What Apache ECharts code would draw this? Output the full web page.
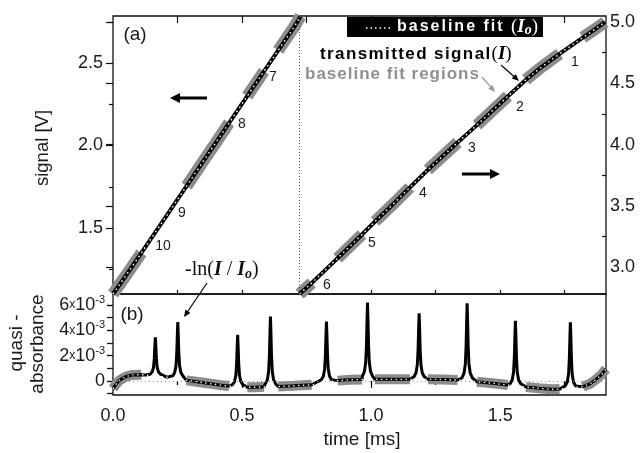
<!DOCTYPE html>
<html>
<head>
<meta charset="utf-8">
<script src="https://cdn.jsdelivr.net/npm/echarts@6.0.0/dist/echarts.min.js"></script>
<style>html,body{margin:0;padding:0;background:#fff}#main{width:643px;height:453px}</style>
</head>
<body>
<div id="main"></div>
<script>
// time axis [ms]
var tMax = 1.91;
var breakT = 0.723; // ramp wraps from left axis to right axis here

// signal ramp read against the left axis [t ms, V]
var rampLeft = [[0,1.100],[0.05,1.212],[0.11,1.349],[0.15,1.441],[0.2,1.557],[0.25,1.673],[0.285,1.754],[0.35,1.905],[0.4,2.021],[0.45,2.137],[0.52,2.299],[0.585,2.450],[0.64,2.577],[0.7,2.714],[0.727,2.784]];
// signal ramp read against the right axis [t ms, V]
var rampRight = [[0.723,2.780],[0.77,2.870],[0.82,2.971],[0.87,3.072],[0.965,3.266],[1.015,3.372],[1.08,3.503],[1.15,3.650],[1.22,3.794],[1.28,3.911],[1.335,4.017],[1.41,4.159],[1.47,4.277],[1.53,4.395],[1.6,4.530],[1.66,4.633],[1.73,4.741],[1.82,4.874],[1.86,4.931],[1.906,5.0]];

// baseline fit regions [t start, t end]
var fitRegions = [[0,0.11],[0.285,0.45],[0.52,0.585],[0.64,0.77],[0.87,0.965],[1.015,1.15],[1.22,1.335],[1.41,1.53],[1.6,1.73],[1.82,1.91]];

// quasi-absorbance baseline between the lines [t ms, A in 1e-3]
var absBase = [[0,-0.60],[0.012,-0.25],[0.025,0.05],[0.05,0.35],[0.075,0.48],[0.11,0.50],[0.125,0.48],[0.208,0.30],[0.285,0.05],[0.33,-0.08],[0.38,-0.22],[0.42,-0.33],[0.45,-0.40],[0.52,-0.50],[0.55,-0.49],[0.585,-0.46],[0.64,-0.43],[0.7,-0.38],[0.77,-0.30],[0.87,0.03],[0.92,0.10],[0.965,0.12],[1.015,0.13],[1.08,0.13],[1.15,0.13],[1.22,0.13],[1.28,0.12],[1.335,0.07],[1.41,-0.06],[1.47,-0.18],[1.53,-0.32],[1.6,-0.47],[1.65,-0.58],[1.7,-0.65],[1.73,-0.64],[1.82,-0.45],[1.85,-0.20],[1.87,0.10],[1.89,0.45],[1.91,0.95]];
// absorption lines [centre t, peak A, foot A] (A in 1e-3)
var peaks = [[0.164,3.45,0.42],[0.251,4.65,0.22],[0.483,3.65,-0.45],[0.610,5.10,-0.45],[0.827,4.70,-0.10],[0.986,6.20,0.13],[1.186,5.36,0.13],[1.372,6.15,0.0],[1.559,4.76,-0.40],[1.772,4.65,-0.60]];
// line shape read from the spikes [dt ms, fraction of height]
var peakShape = [[-0.02,0.04],[-0.012,0.1],[-0.007,0.22],[-0.004,0.45],[-0.002,0.75],[0,1],[0.002,0.75],[0.004,0.45],[0.007,0.22],[0.012,0.1],[0.02,0.04]];

// ticks and labels
var tTicks = [0.25,0.5,0.75,1,1.25,1.5,1.75];
var tLabels = [0,0.5,1,1.5];
var tMinor = [0.25,0.75,1.25,1.75];
var vLeftLabels = [1.5,2.0,2.5];
var vLeftMinor = [1.25,1.75,2.25,2.75];
var vRightLabels = [3.0,3.5,4.0,4.5,5.0];
var vRightMinor = [3.25,3.75,4.25,4.75];
var aLabels = [0,2,4,6];
var aMinor = [-1,1,3,5];
var aRight = [-1,0,1,2,3,4,5,6];

// numbers of the fit regions
var regionTags = [['1',575,62],['2',520,107],['3',472,148],['4',423,193],['5',372,243],['6',327,285],['7',273,77],['8',242,124],['9',182,213],['10',163,246]];

var FONT = '"Liberation Sans", Arial, sans-serif';
var SERIF = '"Liberation Serif", "Times New Roman", serif';
var GRAY = '#8c8c8c';
var INK = '#1a1a1a';

function regionData(pts) {
    var out = [];
    fitRegions.forEach(function (r) {
        var seg = pts.filter(function (p) { return p[0] >= r[0] - 1e-9 && p[0] <= r[1] + 1e-9; });
        if (seg.length > 1) {
            out = out.concat(seg);
            out.push([r[1], null]);
        }
    });
    return out;
}

var absData = absBase.slice();
peaks.forEach(function (p) {
    peakShape.forEach(function (s) {
        absData.push([p[0] + s[0], p[2] + (p[1] - p[2]) * s[1]]);
    });
});
absData.sort(function (a, b) { return a[0] - b[0]; });

function axis(o) {
    return Object.assign({
        type: 'value', splitLine: {show: false}, axisLine: {show: false},
        axisTick: {show: false}, axisLabel: {show: false}
    }, o);
}
function ticks(vals, len, inside) {
    return {show: true, inside: inside, length: len, customValues: vals, lineStyle: {color: '#111', width: 1.2}};
}
var labelBase = {show: true, fontSize: 18, fontFamily: FONT, color: INK};

function arrow(x1, y1, x2, y2, color, w, hl, hw) {
    var dx = x2 - x1, dy = y2 - y1, L = Math.sqrt(dx * dx + dy * dy);
    var ux = dx / L, uy = dy / L;
    var bx = x2 - ux * hl, by = y2 - uy * hl;
    return [
        {type: 'line', shape: {x1: x1, y1: y1, x2: bx + ux, y2: by + uy}, style: {stroke: color, lineWidth: w}},
        {type: 'polygon', shape: {points: [[x2, y2], [bx - uy * hw, by + ux * hw], [bx + uy * hw, by - ux * hw]]}, style: {fill: color}}
    ];
}
function txt(s, x, y, font, rot) {
    return {type: 'text', x: x, y: y, rotation: rot || 0,
        style: {text: s, font: font, fill: INK, align: 'center', verticalAlign: 'middle'}};
}
// spaced-out lettering: one rich token per character
function track(s, key) {
    return s.split('').map(function (c) { return '{' + key + '|' + c + '}'; }).join('');
}

var graphics = [
    txt('(a)', 135, 35, '19px ' + FONT),
    txt('(b)', 132, 315, '19px ' + FONT),
    txt('signal [V]', 43, 148, '18.5px ' + FONT, Math.PI / 2),
    txt('quasi -', 17, 343, '19px ' + FONT, Math.PI / 2),
    txt('absorbance', 38, 344, '19px ' + FONT, Math.PI / 2),
    txt('time [ms]', 362, 440, '19px ' + FONT),
    // legend box
    {type: 'rect', shape: {x: 347, y: 17, width: 196, height: 20}, style: {fill: '#000'}},
    {type: 'line', shape: {x1: 366, y1: 28, x2: 390, y2: 28}, style: {stroke: '#fff', lineWidth: 1.5, lineDash: [1.5, 3]}},
    {type: 'text', x: 397, y: 27, style: {
        text: track('baseline fit ', 'b') + '{p|(}{i|I}{s|o}{p|)}', fill: '#fff', verticalAlign: 'middle',
        rich: {
            b: {font: 'bold 16px ' + FONT, fill: '#fff', padding: [0, 2.0, 0, 0]},
            p: {font: '19px ' + SERIF, fill: '#fff'},
            i: {font: 'bold italic 19px ' + SERIF, fill: '#fff'},
            s: {font: 'bold italic 14px ' + SERIF, fill: '#fff', padding: [7, 0, 0, 0]}
        }}},
    {type: 'text', x: 320, y: 54, style: {
        text: track('transmitted signal', 'b') + '{p|(}{i|I}{p|)}', verticalAlign: 'middle',
        rich: {
            b: {font: 'bold 17px ' + FONT, fill: '#000', padding: [0, 1.4, 0, 0]},
            p: {font: '19px ' + SERIF, fill: '#000'},
            i: {font: 'bold italic 19px ' + SERIF, fill: '#000'}
        }}},
    {type: 'text', x: 305, y: 74, style: {
        text: track('baseline fit regions', 'g'), verticalAlign: 'middle',
        rich: {g: {font: 'bold 17px ' + FONT, fill: '#8f8f8f', padding: [0, 1.0, 0, 0]}}}},
    {type: 'text', x: 185, y: 270, style: {
        text: '{p|-ln(}{i|I}{p| / }{i|I}{s|o}{p|)}', verticalAlign: 'middle',
        rich: {
            p: {font: '20px ' + SERIF, fill: '#111'},
            i: {font: 'bold italic 20px ' + SERIF, fill: '#111'},
            s: {font: 'bold italic 14px ' + SERIF, fill: '#111', padding: [8, 0, 0, 0]}
        }}}
];
graphics = graphics
    .concat(arrow(207, 98, 170, 98, '#000', 3, 10, 5))
    .concat(arrow(462, 174, 500, 174, '#000', 3, 10, 5))
    .concat(arrow(501, 65, 519, 81, '#000', 1.2, 7, 3))
    .concat(arrow(482, 77, 495, 92, '#999', 1.2, 7, 3))
    .concat(arrow(207, 283, 184, 317, '#000', 1.2, 7, 3));
regionTags.forEach(function (a) {
    graphics.push(txt(a[0], a[1], a[2], '14px ' + FONT));
});

var option = {
    animation: false,
    grid: [
        {left: 113, top: 16, width: 493, height: 278, show: true, borderColor: '#111', borderWidth: 1.3},
        {left: 113, top: 294, width: 493, height: 101, show: true, borderColor: '#111', borderWidth: 1.3}
    ],
    xAxis: [
        axis({gridIndex: 0, min: 0, max: tMax, position: 'bottom', axisTick: ticks(tTicks, 4, true)}),
        axis({gridIndex: 0, min: 0, max: tMax, position: 'top', axisTick: ticks(tTicks, 7, true)}),
        axis({gridIndex: 1, min: 0, max: tMax, position: 'bottom', axisTick: ticks(tLabels, 7, false),
            axisLabel: Object.assign({}, labelBase, {customValues: tLabels, margin: 12, formatter: function (v) { return v.toFixed(1); }})}),
        axis({gridIndex: 1, min: 0, max: tMax, position: 'bottom', axisTick: ticks(tMinor, 4, false)}),
        axis({gridIndex: 1, min: 0, max: tMax, position: 'top', axisTick: ticks(tTicks, 4, true)})
    ],
    yAxis: [
        axis({gridIndex: 0, min: 1.1, max: 2.785, position: 'left', axisTick: ticks(vLeftLabels, 7, false),
            axisLabel: Object.assign({}, labelBase, {customValues: vLeftLabels, margin: 10, formatter: function (v) { return v.toFixed(1); }})}),
        axis({gridIndex: 0, min: 2.78, max: 5.05, position: 'right', axisTick: ticks(vRightLabels, 7, true),
            axisLabel: Object.assign({}, labelBase, {customValues: vRightLabels, margin: 4, formatter: function (v) { return v.toFixed(1); }})}),
        axis({gridIndex: 0, min: 1.1, max: 2.785, position: 'left', axisTick: ticks(vLeftMinor, 4, false)}),
        axis({gridIndex: 0, min: 2.78, max: 5.05, position: 'right', axisTick: ticks(vRightMinor, 4, true)}),
        axis({gridIndex: 1, min: -1.107, max: 6.877, position: 'left', axisTick: ticks(aLabels, 6, false),
            axisLabel: Object.assign({}, labelBase, {customValues: aLabels, margin: 8,
                formatter: function (v) { return Math.abs(v) < 1e-9 ? '{n|0}' : '{n|' + v + '}{x|x}{n|10}{s|-3}'; },
                rich: {n: {fontSize: 18, fontFamily: FONT, color: INK}, x: {fontSize: 12, fontFamily: FONT, color: INK},
                    s: {fontSize: 11, fontFamily: FONT, color: INK, padding: [0, 0, 10, 0]}}})}),
        axis({gridIndex: 1, min: -1.107, max: 6.877, position: 'left', axisTick: ticks(aMinor, 3.5, false)}),
        axis({gridIndex: 1, min: -1.107, max: 6.877, position: 'right', axisTick: ticks(aRight, 6, true)})
    ],
    series: [
        {type: 'line', xAxisIndex: 0, yAxisIndex: 0, data: regionData(rampLeft), symbol: 'none', clip: false, silent: true, z: 1,
            lineStyle: {color: GRAY, width: 12}},
        {type: 'line', xAxisIndex: 0, yAxisIndex: 1, data: regionData(rampRight), symbol: 'none', clip: false, silent: true, z: 1,
            lineStyle: {color: GRAY, width: 12}},
        {type: 'line', xAxisIndex: 0, yAxisIndex: 0, data: rampLeft, symbol: 'none', silent: true, z: 2,
            lineStyle: {color: '#000', width: 4},
            markLine: {silent: true, symbol: 'none', label: {show: false}, lineStyle: {color: '#555', width: 1, type: [1, 2]},
                data: [{xAxis: breakT}]}},
        {type: 'line', xAxisIndex: 0, yAxisIndex: 1, data: rampRight, symbol: 'none', silent: true, z: 2,
            lineStyle: {color: '#000', width: 4}},
        {type: 'line', xAxisIndex: 0, yAxisIndex: 0, data: rampLeft, symbol: 'none', silent: true, z: 3,
            lineStyle: {color: '#fff', width: 1.5, type: [1.5, 3.5]}},
        {type: 'line', xAxisIndex: 0, yAxisIndex: 1, data: rampRight, symbol: 'none', silent: true, z: 3,
            lineStyle: {color: '#fff', width: 1.5, type: [1.5, 3.5]}},

        {type: 'line', xAxisIndex: 2, yAxisIndex: 4, data: regionData(absBase), symbol: 'none', clip: false, silent: true, z: 1,
            lineStyle: {color: GRAY, width: 10},
            markLine: {silent: true, symbol: 'none', label: {show: false}, lineStyle: {color: '#999', width: 1, type: [1, 3]},
                data: [{yAxis: 0}]}},
        {type: 'line', xAxisIndex: 2, yAxisIndex: 4, data: absData, symbol: 'none', silent: true, z: 2,
            lineStyle: {color: '#000', width: 3}},
        {type: 'line', xAxisIndex: 2, yAxisIndex: 4, data: absBase, symbol: 'none', silent: true, z: 3,
            lineStyle: {color: '#fff', width: 1.4, type: [1.4, 3.5]}}
    ],
    graphic: graphics
};

var myChart = echarts.init(document.getElementById('main'));
myChart.setOption(option);
window.addEventListener('resize', function () {
    myChart.resize();
}, false);
</script>
</body>
</html>
